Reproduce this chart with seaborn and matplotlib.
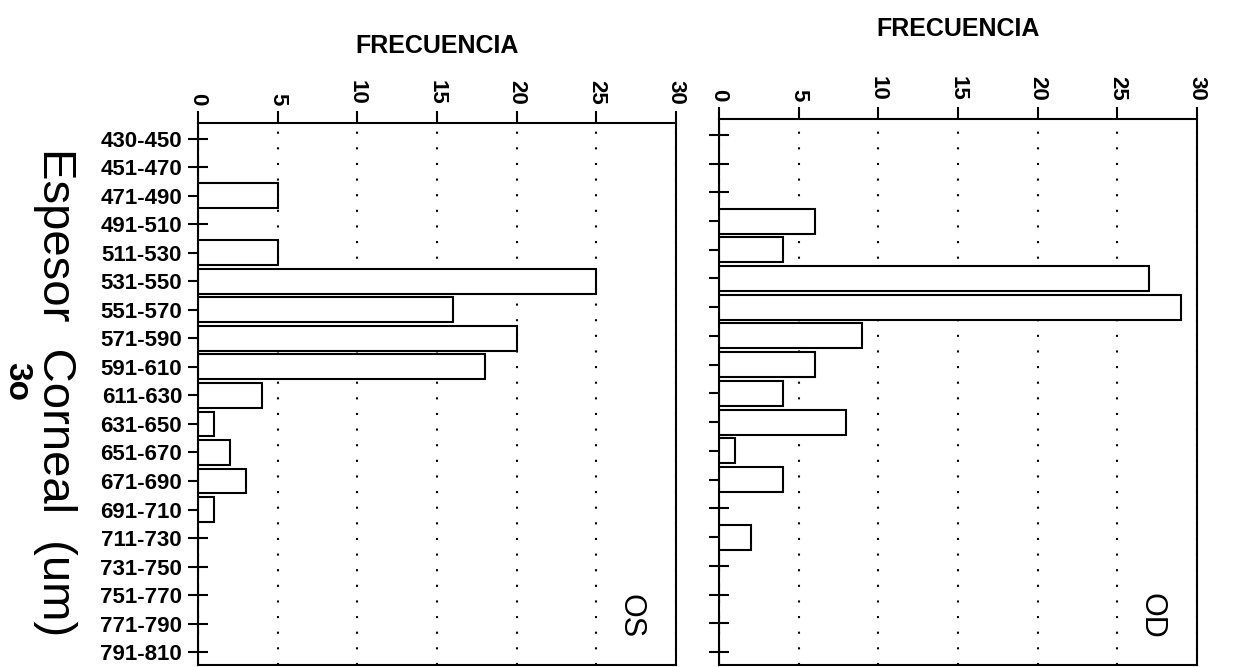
import matplotlib
matplotlib.use("Agg")
import matplotlib.pyplot as plt
import seaborn as sns
import pandas as pd

# Corneal thickness classes (um) and frequency per eye
rangos = ["430-450", "451-470", "471-490", "491-510", "511-530", "531-550",
          "551-570", "571-590", "591-610", "611-630", "631-650", "651-670",
          "671-690", "691-710", "711-730", "731-750", "751-770", "771-790",
          "791-810"]
frec_os = [0, 0, 5, 0, 5, 25, 16, 20, 18, 4, 1, 2, 3, 1, 0, 0, 0, 0, 0]
frec_od = [0, 0, 0, 6, 4, 27, 29, 9, 6, 4, 8, 1, 4, 0, 2, 0, 0, 0, 0]
x_ticks = [0, 5, 10, 15, 20, 25, 30]

sns.set_theme(style="white")
plt.rcParams["font.family"] = ["Liberation Sans", "DejaVu Sans"]
plt.rcParams["axes.edgecolor"] = "black"
plt.rcParams["axes.linewidth"] = 1.5

W, H = 1237, 667
fig = plt.figure(figsize=(W / 100, H / 100), dpi=100)
fig.patch.set_facecolor("white")

ax_os = fig.add_axes([198 / W, 2 / H, 478 / W, (665 - 123) / H])
ax_od = fig.add_axes([719 / W, 2 / H, 478 / W, (665 - 119) / H])


def panel(ax, values, eye, show_labels, label_y):
    df = pd.DataFrame({"rango": rangos, "frecuencia": values})
    ax.set_axisbelow(True)
    ax.grid(axis="x", color="black", linewidth=1.5, linestyle=(0, (1, 6.5)))
    ax.grid(axis="y", visible=False)
    sns.barplot(data=df, x="frecuencia", y="rango", orient="h", color="white",
                saturation=1, edgecolor="black", linewidth=1.5, width=0.87,
                errorbar=None, ax=ax)
    ax.set_xlim(0, 30)
    ax.set_ylim(len(rangos) - 0.55, -0.55)
    ax.set_xticks(x_ticks)
    ax.set_xticklabels([str(t) for t in x_ticks], rotation=-90,
                       fontsize=16, fontweight="bold")
    ax.xaxis.tick_top()
    ax.xaxis.set_label_position("top")
    ax.tick_params(axis="x", direction="out", length=9, width=1.5,
                   pad=4, colors="black")
    ax.tick_params(axis="y", direction="inout", length=15, width=1.5,
                   pad=4, colors="black", left=True)
    ax.set_xlabel("FRECUENCIA", fontsize=18, fontweight="bold",
                  color="black", va="center")
    ax.xaxis.set_label_coords(0.5, label_y)
    ax.set_yticks(range(len(rangos)))
    if show_labels:
        ax.set_yticklabels(rangos, fontsize=16, fontweight="bold")
    else:
        ax.set_yticklabels([])
    ax.set_ylabel("")
    for side in ["top", "bottom", "left", "right"]:
        ax.spines[side].set_visible(True)
        ax.spines[side].set_color("black")
        ax.spines[side].set_linewidth(1.5)
    ax.text(0.905, 0.09, eye, transform=ax.transAxes, rotation=-90,
            ha="center", va="center", fontsize=22, color="black")


panel(ax_os, frec_os, "OS", True, (665 - 46) / 542)
panel(ax_od, frec_od, "OD", False, (665 - 29) / 546)

# Vertical axis title, reading top to bottom, with the subtitle beside it
fig.text(55 / W, 1 - 392 / H, "Espesor  Corneal  (um)", rotation=-90,
         ha="center", va="center", fontsize=34, color="black")
fig.text(17 / W, 1 - 382 / H, "3o", rotation=-90, ha="center", va="center",
         fontsize=24, fontweight="bold", color="black")

fig.savefig("out.png", dpi=100, facecolor="white")
